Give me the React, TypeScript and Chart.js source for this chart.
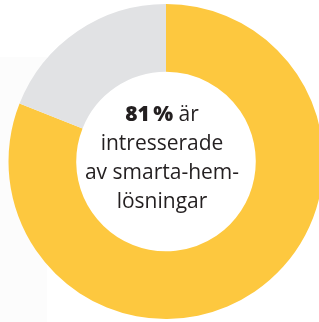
import React, { useEffect, useRef } from "react";
import { Chart, registerables } from "chart.js";

Chart.register(...registerables);

const categories = ["Intresserade", "Ej intresserade"];
const values = [81, 19];
const colors = ["#FDC83F", "#E1E2E4"];
const centerLines = [
  [{ t: "81\u2009%", bold: true }, { t: " är", bold: false }],
  [{ t: "intresserade", bold: false }],
  [{ t: "av smarta-hem-", bold: false }],
  [{ t: "lösningar", bold: false }],
];

const FONT_SIZE = 21;
const FAMILY = "'Open Sans', sans-serif";

const centerText = {
  id: "centerText",
  afterDraw(chart: any) {
    const ctx = chart.ctx as CanvasRenderingContext2D;
    const meta = chart.getDatasetMeta(0);
    const arc = meta.data[0];
    const cx = arc.x - 4;
    const cy = arc.y;
    ctx.save();
    ctx.fillStyle = "#231F20";
    ctx.textBaseline = "alphabetic";
    ctx.textAlign = "left";
    const lh = 29;
    const firstBase = cy - 40.5;
    centerLines.forEach((line, i) => {
      let total = 0;
      const widths = line.map((seg) => {
        ctx.font = `${seg.bold ? "800" : "400"} ${FONT_SIZE}px ${FAMILY}`;
        const w = ctx.measureText(seg.t).width;
        total += w;
        return w;
      });
      let x = cx - total / 2;
      line.forEach((seg, j) => {
        ctx.font = `${seg.bold ? "800" : "400"} ${FONT_SIZE}px ${FAMILY}`;
        ctx.fillText(seg.t, x, firstBase + i * lh);
        x += widths[j];
      });
    });
    ctx.restore();
  },
};

export default function App() {
  const ref = useRef<HTMLCanvasElement>(null);
  useEffect(() => {
    if (!ref.current) return;
    const chart = new Chart(ref.current, {
      type: "doughnut",
      data: {
        labels: categories,
        datasets: [
          {
            data: values,
            backgroundColor: colors,
            borderWidth: 0,
          },
        ],
      },
      options: {
        responsive: false,
        maintainAspectRatio: false,
        animation: false,
        cutout: "57%",
        layout: { padding: 0 },
        plugins: {
          legend: { display: false },
          tooltip: { enabled: false },
        },
      },
      plugins: [centerText],
    });
    return () => chart.destroy();
  }, []);
  return (
    <div style={{ position: "absolute", left: 0, top: 0, width: 319, height: 322, overflow: "hidden", background: "#fff" }}>
      <div style={{ position: "absolute", left: 0, top: 57, width: 47, height: 265, background: "#FCFCFC" }} />
      <canvas
        ref={ref}
        width={332}
        height={315}
        style={{ position: "absolute", left: 0, top: 4, width: 332, height: 315 }}
      />
    </div>
  );
}
